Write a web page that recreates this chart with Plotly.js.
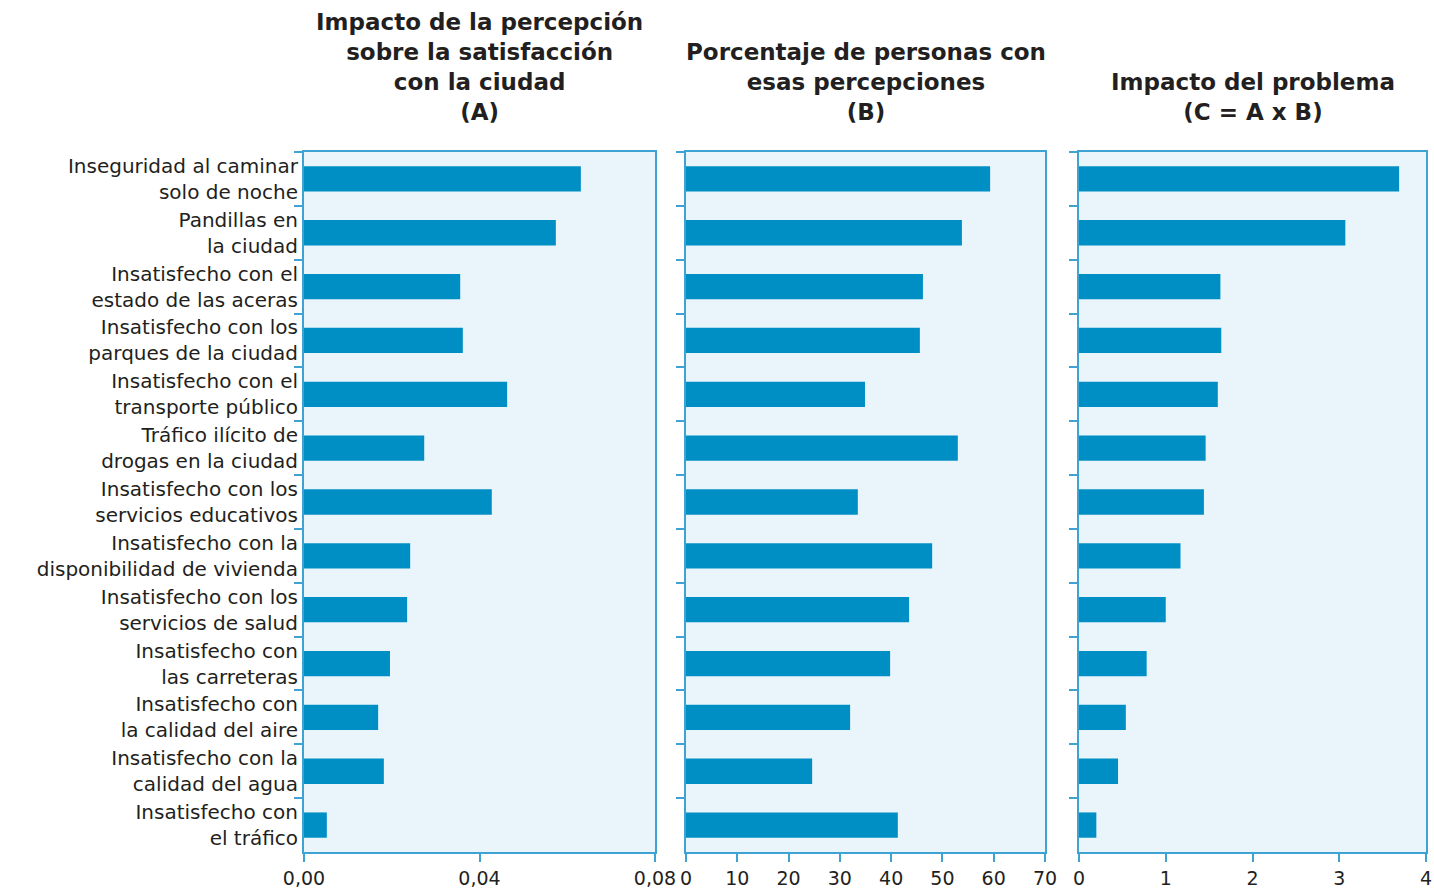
<!DOCTYPE html>
<html><head><meta charset="utf-8">
<script src="https://cdn.plot.ly/plotly-3.0.1.min.js"></script>
<style>html,body{margin:0;padding:0;background:#fff;}#chart{width:1434px;height:889px;}</style>
</head><body><div id="chart"></div>
<script>
const categories = [
  "Inseguridad al caminar<br>solo de noche",
  "Pandillas en<br>la ciudad",
  "Insatisfecho con el<br>estado de las aceras",
  "Insatisfecho con los<br>parques de la ciudad",
  "Insatisfecho con el<br>transporte público",
  "Tráfico ilícito de<br>drogas en la ciudad",
  "Insatisfecho con los<br>servicios educativos",
  "Insatisfecho con la<br>disponibilidad de vivienda",
  "Insatisfecho con los<br>servicios de salud",
  "Insatisfecho con<br>las carreteras",
  "Insatisfecho con<br>la calidad del aire",
  "Insatisfecho con la<br>calidad del agua",
  "Insatisfecho con<br>el tráfico"
];
const impactA = [0.0631, 0.0574, 0.0356, 0.0362, 0.0463, 0.0274, 0.0428, 0.0242, 0.0235, 0.0196, 0.0169, 0.0182, 0.0052];
const percentB = [59.3, 53.8, 46.2, 45.6, 34.9, 53.0, 33.5, 48.0, 43.5, 39.8, 32.0, 24.6, 41.3];
const impactC = [3.69, 3.07, 1.63, 1.64, 1.60, 1.46, 1.44, 1.17, 1.00, 0.78, 0.54, 0.45, 0.20];
const titles = [
  "Impacto de la percepción<br>sobre la satisfacción<br>con la ciudad<br>(A)",
  "Porcentaje de personas con<br>esas percepciones<br>(B)",
  "Impacto del problema<br>(C = A x B)"
];
const xTicksA = [0, 0.04, 0.08];
const xTicksB = [0, 10, 20, 30, 40, 50, 60, 70];
const xTicksC = [0, 1, 2, 3, 4];

const W = 1434;
const barColor = "#008FC5";
const bg = "#EAF5FB";
const axisCol = "#3EA3D3";
const txt = "#231F20";
const font = "DejaVu Sans, sans-serif";

function bar(x, xa, ya) {
  return {type: "bar", orientation: "h", x: x, y: categories, xaxis: xa, yaxis: ya,
    marker: {color: barColor, line: {width: 0}}, hoverinfo: "x+y", showlegend: false};
}
function xax(dom, range, ticks, fmt) {
  return {domain: [dom[0]/W, dom[1]/W], range: range, tickvals: ticks, tickformat: fmt,
    showgrid: false, zeroline: false, showline: true, mirror: true, linecolor: axisCol, linewidth: 2,
    ticks: "outside", ticklen: 8, tickwidth: 2, tickcolor: axisCol, ticklabeloverflow: "allow",
    tickfont: {family: font, size: 19, color: txt}, fixedrange: true};
}
function yax(anchor, labels) {
  return {anchor: anchor, domain: [(889-852)/889, (889-152)/889], autorange: "reversed",
    type: "category", tickson: "boundaries", ticks: "outside", ticklen: 8, tickwidth: 2, tickcolor: axisCol,
    showticklabels: labels, showgrid: false, showline: true, mirror: true, linecolor: axisCol, linewidth: 2,
    tickfont: {family: font, size: 20, color: txt}, automargin: false, fixedrange: true};
}
const data = [bar(impactA, "x", "y"), bar(percentB, "x2", "y2"), bar(impactC, "x3", "y3")];
const doms = [[304, 655], [686, 1045], [1079, 1426]];
const centers = doms.map(d => (d[0] + d[1]) / 2);
const layout = {
  width: 1434, height: 889, margin: {l: 0, r: 0, t: 0, b: 0},
  paper_bgcolor: "#ffffff", plot_bgcolor: bg, bargap: 0.53,
  separators: ",.",
  font: {family: font, color: txt},
  xaxis: xax(doms[0], [0, 0.08], xTicksA, ".2f"),
  xaxis2: xax(doms[1], [0, 70], xTicksB, "d"),
  xaxis3: xax(doms[2], [0, 4], xTicksC, "d"),
  yaxis: yax("x", true),
  yaxis2: yax("x2", false),
  yaxis3: yax("x3", false),
  annotations: titles.map((t, i) => ({text: "<b>" + t + "</b>", xref: "paper", yref: "paper",
    x: centers[i]/W, y: (889-127)/889, xanchor: "center", yanchor: "bottom", showarrow: false,
    align: "center", font: {family: font, size: 23, color: txt}}))
};
Plotly.newPlot("chart", data, layout, {displayModeBar: false, staticPlot: true});
</script></body></html>
